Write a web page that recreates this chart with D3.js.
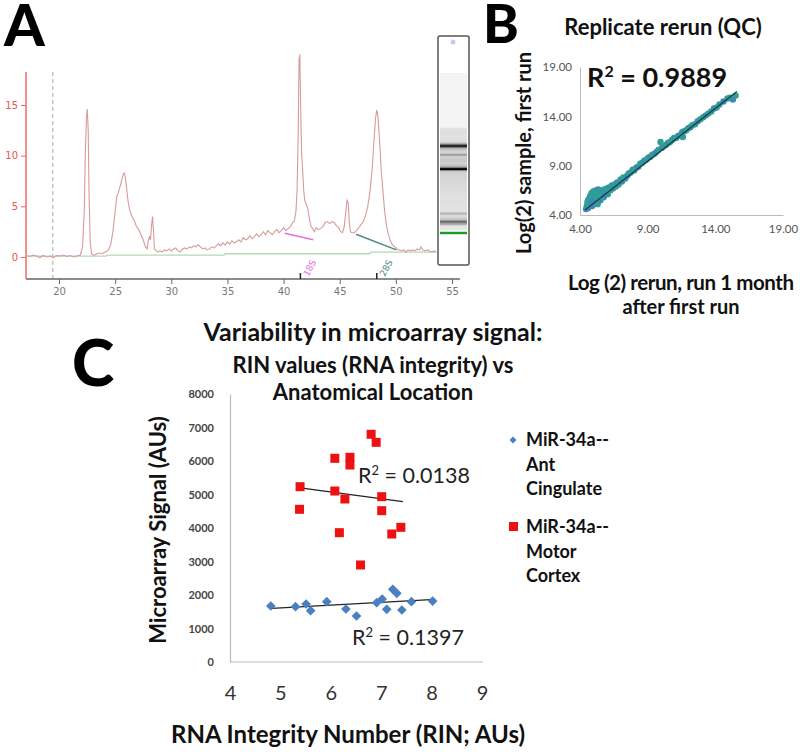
<!DOCTYPE html>
<html><head><meta charset="utf-8">
<script src="https://cdn.jsdelivr.net/npm/d3@7"></script>
<style>body{margin:0;background:#fff}svg{display:block}</style></head>
<body><svg id="c" width="800" height="752"></svg>
<script>
// ---------- Panel A: electropherogram ----------
const traceTime = [17.1,17.4,17.7,18.0,18.3,18.6,18.9,19.2,19.5,19.8,20.1,20.4,20.7,21.0,21.3,21.6,21.9,22.1,22.25,22.35,22.45,22.52,22.6,22.68,22.78,22.9,23.1,23.35,23.6,23.85,24.1,24.35,24.6,24.8,25.0,25.15,25.3,25.5,25.7,25.8,25.9,26.0,26.15,26.3,26.5,26.7,26.9,27.1,27.3,27.5,27.7,27.85,27.95,28.05,28.15,28.25,28.33,28.42,28.5,28.65,28.8,29.0,29.2,29.4,29.6,29.8,30.0,30.2,30.4,30.6,30.8,31.0,31.2,31.4,31.6,31.8,32.0,32.2,32.4,32.6,32.8,33.0,33.2,33.4,33.6,33.8,34.0,34.2,34.4,34.6,34.8,35.0,35.2,35.4,35.6,35.8,36.0,36.2,36.4,36.6,36.8,37.0,37.2,37.4,37.6,37.8,38.0,38.2,38.4,38.6,38.8,39.0,39.2,39.4,39.6,39.8,40.0,40.2,40.4,40.6,40.8,40.95,41.1,41.2,41.3,41.38,41.45,41.52,41.6,41.7,41.8,41.9,42.0,42.15,42.3,42.45,42.6,42.75,42.9,43.1,43.3,43.5,43.7,43.9,44.1,44.3,44.5,44.7,44.9,45.1,45.25,45.4,45.55,45.65,45.75,45.85,45.95,46.1,46.3,46.5,46.7,46.9,47.1,47.3,47.5,47.7,47.9,48.05,48.2,48.3,48.4,48.55,48.7,48.85,49.0,49.15,49.3,49.5,49.7,49.9,50.1,50.3,50.5,50.7,50.9,51.1,51.3,51.5,51.7,51.9,52.1,52.25,52.4,52.6,52.8,53.0,53.2,53.4,53.6];
const traceFluor = [0.15,0.05,0.2,0.1,-0.05,0.15,0.0,0.1,-0.05,0.15,0.1,0.2,0.05,0.15,0.0,0.1,0.2,1.0,4.5,10.5,13.8,14.6,12.5,6.0,1.5,0.3,0.15,0.3,0.4,0.35,0.5,0.6,1.2,2.5,4.5,6.0,6.4,7.2,8.1,8.3,7.9,7.0,5.5,4.6,4.0,3.6,3.0,2.7,2.2,1.7,1.0,0.8,1.6,2.0,1.7,3.2,4.0,2.5,0.8,0.6,0.5,0.6,0.5,0.7,0.6,0.8,0.6,0.8,0.9,0.6,0.5,0.8,0.9,0.8,1.0,0.9,1.1,1.0,1.2,1.0,0.8,0.9,0.7,0.8,1.0,0.9,1.1,1.3,1.1,1.4,1.2,1.5,1.3,1.6,1.4,1.5,1.7,1.5,1.9,1.7,1.8,2.1,1.8,2.0,2.3,2.0,2.2,2.5,2.2,2.6,2.4,2.2,2.5,2.7,2.4,2.6,2.9,2.6,2.8,3.0,3.4,3.5,4.5,6.5,12.0,19.5,20.0,15.0,10.5,8.5,6.5,5.5,5.3,4.8,3.8,3.0,2.8,2.5,2.9,2.7,2.8,3.0,3.4,3.5,3.3,3.5,3.4,3.1,2.9,2.5,2.4,3.0,4.5,5.6,5.4,3.5,2.5,2.4,2.4,2.6,2.9,3.2,3.5,4.1,5.0,6.5,8.8,11.5,13.8,14.5,13.9,11.5,8.5,6.5,4.5,3.2,2.4,1.6,1.2,1.0,0.8,0.7,0.6,0.7,0.5,0.7,0.6,0.7,0.6,0.8,0.7,1.0,0.7,0.6,0.7,0.6,0.5,0.6,0.5];
const baseTime = [17.1,24.2,24.3,34.7,34.8,47.7,47.8,53.6];
const baseFluor = [0.08,0.08,0.18,0.18,0.32,0.32,0.48,0.48];
const peak18S = {label:"18S", time:[40.1,42.65], fluor:[2.35,1.7], mark:41.5, color:"#e870d8"};
const peak28S = {label:"28S", time:[46.45,50.05], fluor:[2.25,0.7], mark:48.3, color:"#4a8a88"};
const xTicksA = [20,25,30,35,40,45,50,55];
const yTicksA = [0,5,10,15];

// ---------- Panel B: replicate scatter ----------
const rerunX = [4.45,4.5,4.55,4.6,4.65,4.7,4.75,4.8,4.85,4.9,4.95,5.0,5.05,5.1,5.15,5.2,5.25,5.3,5.35,5.4,5.45,5.5,5.55,5.6,5.7,5.75,5.8,5.9,6.0,6.05,6.15,6.25,6.35,6.45,6.55,6.65,6.75,6.85,7.0,7.1,7.2,7.35,7.5,7.6,7.75,7.9,8.0,8.15,8.3,8.45,8.6,8.75,8.9,9.05,9.2,9.35,9.5,9.65,9.8,9.95,10.05,10.2,10.35,10.5,10.65,10.8,10.95,11.1,11.25,11.4,11.55,11.6,11.7,11.85,12.0,12.15,12.3,12.5,12.7,12.9,13.1,13.3,13.5,13.7,13.9,14.1,14.3,14.6,14.9,15.1,15.3,15.5,4.6,4.9,5.2,5.5,5.8,6.1];
const firstRunY = [4.6,4.9,5.3,4.7,5.6,5.0,5.9,5.3,6.2,4.9,5.7,6.4,5.2,6.0,6.5,5.5,6.2,5.1,6.6,5.8,6.3,5.5,6.5,6.0,6.4,5.8,6.6,6.2,6.7,6.1,6.8,6.5,7.0,6.7,7.1,6.9,7.3,7.1,7.6,7.4,7.8,7.7,8.0,8.2,8.3,8.6,8.5,8.8,8.9,9.2,9.3,9.5,9.6,9.8,9.9,10.1,10.2,10.4,10.6,11.4,10.8,11.0,11.1,11.3,11.4,11.6,11.8,11.8,12.0,12.1,12.4,11.9,12.5,12.6,12.8,12.9,13.1,13.2,13.5,13.7,13.9,14.1,14.3,14.5,14.8,14.9,15.2,15.5,15.8,15.9,15.7,16.1,5.5,5.4,5.8,6.1,6.0,6.5];
const trendB = {x:[4.37,15.6], y:[4.51,16.52]};
const ticksB = [4,9,14,19];

// ---------- Panel C: RIN vs signal ----------
const rinAnt = [4.81,5.30,5.51,5.60,5.92,6.30,6.51,6.91,7.02,7.11,7.23,7.31,7.41,7.60,8.02];
const sigAnt = [1672,1652,1731,1532,1800,1582,1373,1771,1880,1572,2170,2050,1552,1800,1820];
const rinMotor = [5.39,5.38,6.08,6.08,6.17,6.28,6.38,6.38,6.59,6.80,6.90,7.01,7.01,7.21,7.39];
const sigMotor = [5233,4558,6080,5104,3860,4866,6110,5880,2896,6797,6557,4935,4517,3821,4020];
const trendAnt = {x:[4.83,8.07], y:[1602,1871]};
const trendMotor = {x:[5.32,7.43], y:[5214,4786]};
const xTicksC = [4,5,6,7,8,9];
const yTicksC = [0,1000,2000,3000,4000,5000,6000,7000,8000];

const svg = d3.select("#c");
svg.append("rect").attr("width",800).attr("height",752).attr("fill","#fff");
const FONT = "Lato, 'Open Sans', sans-serif";

// ===== Panel A =====
const xA = d3.scaleLinear().domain([20,55]).range([59,452]);
const yA = d3.scaleLinear().domain([0,15]).range([257,105]);
const gA = svg.append("g");
gA.append("text").attr("x",4).attr("y",46).text("A")
  .attr("font-family",FONT).attr("font-weight",900).attr("font-size",58).attr("fill","#000");
gA.append("line").attr("x1",xA(19.45)).attr("x2",xA(19.45)).attr("y1",72).attr("y2",279)
  .attr("stroke","#aaa").attr("stroke-dasharray","4,3").attr("stroke-width",1);
const axA = gA.append("g").attr("transform","translate(0,279)")
  .call(d3.axisBottom(xA).tickValues(xTicksA).tickSize(5).tickSizeOuter(0).tickPadding(4));
axA.select(".domain").remove();
axA.selectAll("line").attr("stroke","#666");
axA.selectAll("text").attr("font-family","'DejaVu Sans', sans-serif").attr("font-size",10).attr("fill","#777");
gA.append("line").attr("x1",xA(17.06)).attr("x2",xA(55.7)).attr("y1",279).attr("y2",279).attr("stroke","#666").attr("stroke-width",1.5);
const ayA = gA.append("g").attr("transform","translate(26,0)")
  .call(d3.axisLeft(yA).tickValues(yTicksA).tickSize(5).tickSizeOuter(0).tickPadding(3));
ayA.select(".domain").remove();
ayA.selectAll("line").attr("stroke","#f06060");
ayA.selectAll("text").attr("font-family","'DejaVu Sans', sans-serif").attr("font-size",10).attr("fill","#f05050");
gA.append("line").attr("x1",26).attr("x2",26).attr("y1",72).attr("y2",279).attr("stroke","#f06a6a").attr("stroke-width",1.5);
const lineA = d3.line().x(d=>xA(d[0])).y(d=>yA(d[1]));
gA.append("path").attr("d",lineA(d3.zip(baseTime,baseFluor))).attr("fill","none").attr("stroke","#b4dab4").attr("stroke-width",1.3);
gA.append("path").attr("d",lineA(d3.zip(traceTime,traceFluor))).attr("fill","none").attr("stroke","#d99a9a").attr("stroke-width",1.1);
[peak18S,peak28S].forEach(p=>{
  gA.append("path").attr("d",lineA(d3.zip(p.time,p.fluor))).attr("stroke",p.color).attr("stroke-width",1.5).attr("fill","none");
  gA.append("line").attr("x1",xA(p.mark)).attr("x2",xA(p.mark)).attr("y1",279).attr("y2",273).attr("stroke","#222").attr("stroke-width",1.5);
  gA.append("text").attr("transform",`translate(${xA(p.mark)+8},277) rotate(-62)`).text(p.label)
    .attr("font-family","'DejaVu Sans', sans-serif").attr("font-size",9).attr("fill",p.color);
});
// gel lane
const gelY = d3.scaleLinear().domain([22.5,48.3]).range([233,146]);
const gel = gA.append("g");
gel.append("rect").attr("x",440).attr("y",73).attr("width",27).attr("height",157).attr("fill","#f4f4f4");
traceTime.forEach((t,i)=>{
  if (t<23.2) return;
  const f = Math.max(0,traceFluor[i]);
  gel.append("rect").attr("x",440).attr("width",27).attr("y",gelY(t)-0.8).attr("height",1.6)
    .attr("fill","#000").attr("opacity",Math.min(0.7,Math.pow(f/20,1.6)*0.75+0.03));
});
gel.append("rect").attr("x",440).attr("width",27).attr("y",gelY(22.52)-1.2).attr("height",2.5).attr("fill","#1a9a2a");
gel.append("circle").attr("cx",453).attr("cy",42).attr("r",2.5).attr("fill","#c8c8ff");
gel.append("rect").attr("x",438).attr("y",36).attr("width",31).attr("height",229).attr("rx",2)
  .attr("fill","none").attr("stroke","#555").attr("stroke-width",1.5);

// ===== Panel B =====
const xB = d3.scaleLinear().domain([4,19]).range([580,783]);
const yB = d3.scaleLinear().domain([4,19]).range([215,67]);
const gB = svg.append("g");
gB.append("text").attr("x",483).attr("y",43).text("B")
  .attr("font-family",FONT).attr("font-weight",900).attr("font-size",54).attr("fill","#000");
gB.append("text").attr("x",663).attr("y",35).attr("text-anchor","middle").text("Replicate rerun (QC)")
  .attr("font-family",FONT).attr("font-weight",700).attr("font-size",22).attr("fill","#111");
const axB = gB.append("g").attr("transform","translate(0,215)")
  .call(d3.axisBottom(xB).tickValues(ticksB).tickFormat(d3.format(".2f")).tickSize(0).tickPadding(10));
axB.select(".domain").attr("stroke","#bbb");
axB.selectAll("text").attr("font-family",FONT).attr("font-size",11.5).attr("fill","#555");
const ayB = gB.append("g").attr("transform","translate(580,0)")
  .call(d3.axisLeft(yB).tickValues(ticksB).tickFormat(d3.format(".2f")).tickSize(0).tickPadding(8));
ayB.select(".domain").attr("stroke","#bbb");
ayB.selectAll("text").attr("font-family",FONT).attr("font-size",11.5).attr("fill","#555");
gB.selectAll("circle.pt").data(d3.zip(rerunX,firstRunY)).join("circle").attr("class","pt")
  .attr("cx",d=>xB(d[0])).attr("cy",d=>yB(d[1])).attr("r",3.2)
  .attr("fill",(d,i)=> i%3===0 ? "#3d86b8" : "#2e9f96");
gB.append("line").attr("x1",xB(trendB.x[0])).attr("y1",yB(trendB.y[0])).attr("x2",xB(trendB.x[1])).attr("y2",yB(trendB.y[1]))
  .attr("stroke","#1a3a3a").attr("stroke-width",1.2);
gB.append("text").attr("x",587).attr("y",87).attr("font-family",FONT).attr("font-weight",700).attr("font-size",27).attr("fill","#111")
  .html('R<tspan dy="-10" font-size="16">2</tspan><tspan dy="10"> = 0.9889</tspan>');
gB.append("text").attr("transform","translate(531,153) rotate(-90)").attr("text-anchor","middle").text("Log(2) sample,  first run")
  .attr("font-family",FONT).attr("font-weight",700).attr("font-size",20).attr("fill","#111");
gB.append("text").attr("x",681).attr("y",290).attr("text-anchor","middle").text("Log (2) rerun, run 1 month")
  .attr("textLength",226).attr("lengthAdjust","spacing")
  .attr("font-family",FONT).attr("font-weight",700).attr("font-size",20.5).attr("fill","#111");
gB.append("text").attr("x",681).attr("y",314).attr("text-anchor","middle").text("after first run")
  .attr("font-family",FONT).attr("font-weight",700).attr("font-size",20).attr("fill","#111");

// ===== Panel C =====
const xC = d3.scaleLinear().domain([4,9]).range([230,482]);
const yC = d3.scaleLinear().domain([0,8000]).range([662,394]);
const gC = svg.append("g");
gC.append("text").attr("x",72).attr("y",386).text("C")
  .attr("font-family",FONT).attr("font-weight",900).attr("font-size",64).attr("fill","#000");
[["Variability in microarray signal:",341,25],["RIN values (RNA integrity) vs",373,22],["Anatomical Location",400,22]].forEach(t=>{
  gC.append("text").attr("x",373).attr("y",t[1]).attr("text-anchor","middle").text(t[0])
    .attr("font-family",FONT).attr("font-weight",700).attr("font-size",t[2]).attr("fill","#111");
});
const axC = gC.append("g").attr("transform","translate(0,662)")
  .call(d3.axisBottom(xC).tickValues(xTicksC).tickFormat(d3.format("d")).tickSize(0).tickPadding(24));
axC.select(".domain").remove();
axC.selectAll("text").attr("font-family",FONT).attr("font-size",20).attr("fill","#333");
gC.append("line").attr("x1",230).attr("x2",483).attr("y1",662).attr("y2",662).attr("stroke","#bbb").attr("stroke-width",1.2);
const ayC = gC.append("g").attr("transform","translate(230,0)")
  .call(d3.axisLeft(yC).tickValues(yTicksC).tickFormat(d3.format("d")).tickSize(0).tickPadding(16));
ayC.select(".domain").attr("stroke","#bbb").attr("stroke-width",1.2);
ayC.selectAll("text").attr("font-family",FONT).attr("font-weight",700).attr("font-size",11).attr("fill","#444");
gC.append("text").attr("transform","translate(166,530) rotate(-90)").attr("text-anchor","middle").text("Microarray Signal (AUs)")
  .attr("font-family",FONT).attr("font-weight",700).attr("font-size",22).attr("fill","#111");
gC.append("text").attr("x",348).attr("y",743).attr("text-anchor","middle").text("RNA Integrity Number (RIN; AUs)")
  .attr("font-family",FONT).attr("font-weight",700).attr("font-size",24).attr("fill","#111");
[trendMotor,trendAnt].forEach(tr=>{
  gC.append("line").attr("x1",xC(tr.x[0])).attr("y1",yC(tr.y[0])).attr("x2",xC(tr.x[1])).attr("y2",yC(tr.y[1]))
    .attr("stroke","#222").attr("stroke-width",1.2);
});
gC.selectAll("rect.mc").data(d3.zip(rinMotor,sigMotor)).join("rect").attr("class","mc")
  .attr("x",d=>xC(d[0])-4.5).attr("y",d=>yC(d[1])-4.5).attr("width",9).attr("height",9).attr("fill","#ee1111");
gC.selectAll("path.ac").data(d3.zip(rinAnt,sigAnt)).join("path").attr("class","ac")
  .attr("d",d3.symbol(d3.symbolDiamond2,60)).attr("transform",d=>`translate(${xC(d[0])},${yC(d[1])})`).attr("fill","#4a7fc0");
gC.append("text").attr("x",358).attr("y",483).attr("font-family",FONT).attr("font-size",21.5).attr("fill","#222")
  .html('R<tspan dy="-8" font-size="13">2</tspan><tspan dy="8"> = 0.0138</tspan>');
gC.append("text").attr("x",352).attr("y",645).attr("font-family",FONT).attr("font-size",21.5).attr("fill","#222")
  .html('R<tspan dy="-8" font-size="13">2</tspan><tspan dy="8"> = 0.1397</tspan>');
const lg = gC.append("g");
lg.append("path").attr("d",d3.symbol(d3.symbolDiamond2,30)).attr("transform","translate(513,440)").attr("fill","#4a7fc0");
["MiR-34a--","Ant","Cingulate"].forEach((t,i)=>lg.append("text").attr("x",526).attr("y",446+i*24.5).text(t)
  .attr("font-family",FONT).attr("font-weight",700).attr("font-size",18).attr("fill","#111"));
lg.append("rect").attr("x",509).attr("y",522).attr("width",9).attr("height",9).attr("fill","#ee1111");
["MiR-34a--","Motor","Cortex"].forEach((t,i)=>lg.append("text").attr("x",526).attr("y",533+i*24.5).text(t)
  .attr("font-family",FONT).attr("font-weight",700).attr("font-size",18).attr("fill","#111"));
</script></body></html>
